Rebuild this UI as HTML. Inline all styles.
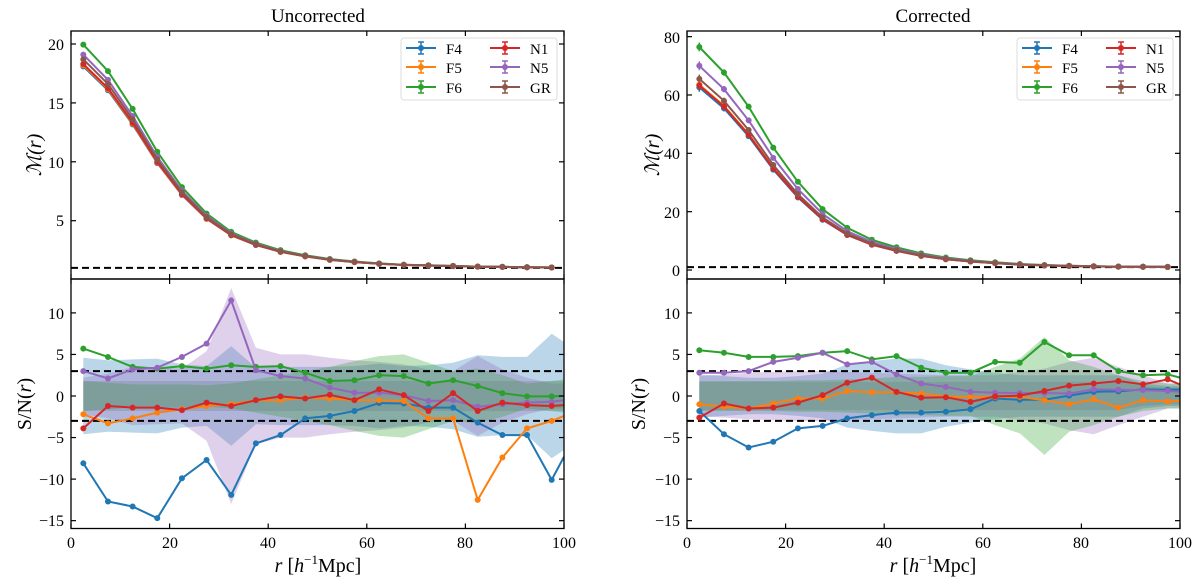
<!DOCTYPE html>
<html><head><meta charset="utf-8">
<style>
body{margin:0;background:#fff;}
svg{display:block;font-family:"Liberation Serif","DejaVu Serif",serif;}
</style></head>
<body>
<svg id="s" width="1200" height="585" xmlns="http://www.w3.org/2000/svg">
<rect width="1200" height="585" fill="#fff"/>
<g id="plots"></g>
<!-- titles -->
<text x="318" y="22" font-size="19" text-anchor="middle">Uncorrected</text>
<text x="933" y="22" font-size="19" text-anchor="middle">Corrected</text>
<!-- y labels -->
<text transform="translate(41,155) rotate(-90)" font-size="20" text-anchor="middle" font-style="italic">ℳ(r)</text>
<text transform="translate(659,155) rotate(-90)" font-size="20" text-anchor="middle" font-style="italic">ℳ(r)</text>
<text transform="translate(31,404) rotate(-90)" font-size="20" text-anchor="middle">S/N(<tspan font-style="italic">r</tspan>)</text>
<text transform="translate(645,404) rotate(-90)" font-size="20" text-anchor="middle">S/N(<tspan font-style="italic">r</tspan>)</text>
<!-- x labels -->
<text x="318" y="572" font-size="20" text-anchor="middle"><tspan font-style="italic">r</tspan> [<tspan font-style="italic">h</tspan><tspan font-size="13" dy="-8">−1</tspan><tspan dy="8">Mpc]</tspan></text>
<text x="933" y="572" font-size="20" text-anchor="middle"><tspan font-style="italic">r</tspan> [<tspan font-style="italic">h</tspan><tspan font-size="13" dy="-8">−1</tspan><tspan dy="8">Mpc]</tspan></text>
<!-- tick labels left top -->
<g font-size="16" text-anchor="end">
<text x="64" y="50">20</text><text x="64" y="109">15</text><text x="64" y="168">10</text><text x="64" y="226">5</text>
<text x="680" y="43">80</text><text x="680" y="101">60</text><text x="680" y="159">40</text><text x="680" y="218">20</text><text x="680" y="276">0</text>
<text x="64" y="319">10</text><text x="64" y="360">5</text><text x="64" y="402">0</text><text x="64" y="443">−5</text><text x="64" y="485">−10</text><text x="64" y="526">−15</text>
<text x="680" y="319">10</text><text x="680" y="360">5</text><text x="680" y="402">0</text><text x="680" y="443">−5</text><text x="680" y="485">−10</text><text x="680" y="526">−15</text>
</g>
<g font-size="16" text-anchor="middle">
<text x="71" y="548">0</text><text x="170" y="548">20</text><text x="268" y="548">40</text><text x="367" y="548">60</text><text x="465" y="548">80</text><text x="564" y="548">100</text>
<text x="687" y="548">0</text><text x="786" y="548">20</text><text x="884" y="548">40</text><text x="983" y="548">60</text><text x="1081" y="548">80</text><text x="1180" y="548">100</text>
</g>
<!-- legends -->
<g id="leg1" transform="translate(401,38)">
<rect x="0" y="0" width="156" height="62" rx="3" fill="#fff" fill-opacity="0.85" stroke="#ddd"/>
<g font-size="15">
<text x="45" y="16">F4</text><text x="45" y="35">F5</text><text x="45" y="55">F6</text>
<text x="129" y="16">N1</text><text x="129" y="35">N5</text><text x="129" y="55">GR</text>
</g>
</g>
<g id="leg2" transform="translate(1017,38)">
<rect x="0" y="0" width="156" height="62" rx="3" fill="#fff" fill-opacity="0.85" stroke="#ddd"/>
<g font-size="15">
<text x="45" y="16">F4</text><text x="45" y="35">F5</text><text x="45" y="55">F6</text>
<text x="129" y="16">N1</text><text x="129" y="35">N5</text><text x="129" y="55">GR</text>
</g>
</g>
</svg>
<script>
var NS="http://www.w3.org/2000/svg";
var G=document.getElementById('plots');
function el(t,a,p){var e=document.createElementNS(NS,t);for(var k in a)e.setAttribute(k,a[k]);(p||G).appendChild(e);return e;}
var C={F4:'#1f77b4',F5:'#ff7f0e',F6:'#2ca02c',N1:'#d62728',N5:'#9467bd',GR:'#8c564b'};
var xs=[];for(var i=0;i<20;i++)xs.push(2.5+5*i);
var xsE=xs.concat([100]);
function XL(x){return 71+4.93*x;} function XR(x){return 687+4.93*x;}
function YTL(v){return 279.6-11.78*v;} function YTR(v){return 270-2.917*v;} function YB(v){return 396-8.31*v;}
function line(X,Y,xv,yv,col,pts){var d='';for(var i=0;i<yv.length;i++)d+=(i?'L':'M')+X(xv[i]).toFixed(1)+','+Y(yv[i]).toFixed(1);
 el('path',{d:d,fill:'none',stroke:col,'stroke-width':2});
 if(pts){for(var i=0;i<Math.min(20,yv.length);i++)el('circle',{cx:X(xv[i]),cy:Y(yv[i]),r:3,fill:col});}}
function band(X,Y,h,col){var d='';for(var i=0;i<h.length;i++)d+=(i?'L':'M')+X(xsE[i]).toFixed(1)+','+Y(h[i]).toFixed(1);
 for(var i=h.length-1;i>=0;i--)d+='L'+X(xsE[i]).toFixed(1)+','+Y(-h[i]).toFixed(1);
 el('path',{d:d+'Z',fill:col,'fill-opacity':0.3,stroke:'none'});}
// clip paths
var defs=el('defs',{});
[['cTL',71,31],['cTR',687,31],['cBL',71,279],['cBR',687,279]].forEach(function(c){var cp=el('clipPath',{id:c[0]},defs);el('rect',{x:c[1],y:c[2],width:493,height:249.5},cp);});
// top
var GRl=[18.7,16.6,13.6,10.2,7.4,5.3,3.85,3.0,2.4,2.0,1.7,1.5,1.35,1.25,1.2,1.15,1.1,1.08,1.05,1.03];
var GRr=[65.5,58,48,36,26,18,12.5,9,6.8,5,3.8,3,2.4,1.9,1.6,1.4,1.25,1.15,1.1,1.05];
var dl={F4:-0.6,F5:-0.5,F6:1.25,N1:-0.4,N5:0.4}; var fr={F4:0.955,F5:0.97,F6:1.17,N1:0.965,N5:1.07};
var gTL=el('g',{'clip-path':'url(#cTL)'}),gTR=el('g',{'clip-path':'url(#cTR)'});
var save=G;
G=gTL; el('line',{x1:71,x2:564,y1:YTL(1),y2:YTL(1),stroke:'#000','stroke-width':2,'stroke-dasharray':'7,4'});
['F4','F5','F6','N1','N5','GR'].forEach(function(k){var v=GRl.map(function(g){return k=='GR'?g:g+dl[k]*(g-1)/17.7;});line(XL,YTL,xs,v,C[k],true);});
G=gTR; el('line',{x1:687,x2:1180,y1:YTR(1),y2:YTR(1),stroke:'#000','stroke-width':2,'stroke-dasharray':'7,4'});
['F4','F5','F6','N1','N5','GR'].forEach(function(k){var v=GRr.map(function(g){return k=='GR'?g:1+fr[k]*(g-1);});line(XR,YTR,xs,v,C[k],true);
 for(var i=0;i<3;i++){var e=1.5-i*0.4;el('line',{x1:XR(xs[i]),x2:XR(xs[i]),y1:YTR(v[i]+e),y2:YTR(v[i]-e),stroke:C[k],'stroke-width':1.5});}});
// bottom left
var gBL=el('g',{'clip-path':'url(#cBL)'},save);G=gBL;
band(XL,YB,[4.6,4.3,4.4,4.5,3.8,3.6,6,3.4,3.5,3.5,3.5,3.6,3.9,3.6,3.7,4,4.9,4.7,4.7,7.5,6.5],'#1f77b4');
band(XL,YB,[2.2,2.7,3.5,3.4,3.3,5.4,13,5.8,5,5,4.6,4.3,4.1,3.8,3.2,3,4.8,3.2,2.2,1.5,1.5],'#9467bd');
band(XL,YB,[1.8,1.6,1.4,1.4,1.4,1.3,1.5,2,2.5,3,3.5,4.2,4.8,5,4,3,3.3,2.5,1.5,1.8,2.0],'#2ca02c');
band(XL,YB,[1.8,1.8,1.8,1.8,1.8,1.8,1.8,1.8,1.8,1.8,1.8,1.8,1.8,1.8,1.8,1.8,1.8,1.8,1.8,1.8,1.8],'#6a7f86');
[3,-3].forEach(function(v){el('line',{x1:71,x2:564,y1:YB(v),y2:YB(v),stroke:'#000','stroke-width':2,'stroke-dasharray':'7,4'});});
var BL={F4:[-8.1,-12.7,-13.3,-14.7,-9.9,-7.7,-11.9,-5.7,-4.7,-2.7,-2.4,-1.8,-0.85,-0.9,-1.4,-1.4,-3.2,-4.7,-4.7,-10.1,-7.3],
F5:[-2.2,-3.3,-2.7,-2.0,-1.6,-1.2,-1.0,-0.5,-0.5,-0.2,-0.3,-0.5,-0.5,-0.6,-2.7,-2.7,-12.5,-7.4,-3.9,-3.0,-2.4],
F6:[5.7,4.7,3.5,3.3,3.6,3.3,3.7,3.5,3.6,2.8,1.8,1.9,2.5,2.4,1.5,1.9,1.2,0.35,-0.05,-0.05,0],
N1:[-3.9,-1.2,-1.4,-1.4,-1.7,-0.8,-1.2,-0.5,-0.05,-0.3,0.15,-0.5,0.8,0.1,-1.8,0.35,-1.8,-0.8,-1.1,-1.2,-1.1],
N5:[3.0,2.1,3.2,3.4,4.7,6.3,11.5,3.1,2.4,2.1,1.0,0.4,0.4,0.1,-0.6,-0.5,-1.3,-1.0,-0.8,-0.7,-0.5]};
['F4','F5','F6','N5','N1'].forEach(function(k){line(XL,YB,xsE,BL[k],C[k],true);});
// bottom right
var gBR=el('g',{'clip-path':'url(#cBR)'},save);G=gBR;
band(XR,YB,[2.6,2.4,2.2,2.2,2.4,2.7,3.8,4.2,4.5,4.5,3.7,3.2,2.8,2.5,2.5,2.5,2.5,2.5,1.5,1.2,1.2],'#1f77b4');
band(XR,YB,[2.4,2.6,2.8,2.9,3.0,3.0,2.9,2.8,2.7,2.6,2.5,2.5,2.5,2.9,3.3,4.1,4.6,3.5,2.5,1.5,1.5],'#9467bd');
band(XR,YB,[1.8,1.8,1.8,1.8,1.9,1.9,2.0,2.1,2.3,2.3,2.4,2.4,3.5,4.5,7.1,4.3,3.5,2.5,1.8,1.5,1.5],'#2ca02c');
band(XR,YB,[1.7,1.7,1.7,1.7,1.7,1.7,1.7,1.7,1.7,1.7,1.7,1.7,1.7,1.7,1.7,1.7,1.7,1.7,1.2,1.0,1.0],'#6a7f86');
[3,-3].forEach(function(v){el('line',{x1:687,x2:1180,y1:YB(v),y2:YB(v),stroke:'#000','stroke-width':2,'stroke-dasharray':'7,4'});});
var BR={F4:[-1.8,-4.6,-6.2,-5.5,-3.9,-3.6,-2.7,-2.3,-2.0,-2.0,-1.9,-1.6,-0.3,-0.45,-0.45,0.05,0.5,0.55,0.8,0.75,0.8],
F5:[-1.0,-1.3,-1.5,-0.9,-0.3,-0.3,0.6,0.45,0.45,0.3,-0.1,-0.1,-0.1,-0.1,-0.5,-1.0,-0.4,-1.4,-0.5,-0.65,-0.6],
F6:[5.5,5.2,4.7,4.7,4.8,5.2,5.4,4.4,4.8,3.4,2.8,2.8,4.1,4.0,6.5,4.9,4.9,3.0,2.5,2.6,2.2],
N1:[-2.6,-0.9,-1.5,-1.4,-0.8,0.1,1.6,2.2,0.5,-0.2,-0.15,-0.7,-0.05,0.05,0.6,1.25,1.5,1.8,1.4,2.0,1.4],
N5:[2.8,2.8,3.0,4.1,4.6,5.2,3.8,4.1,2.6,1.5,1.1,0.5,0.4,0.35,0.35,0.3,0.8,0.75,0.7,0.6,0.5]};
['F4','F5','F6','N5','N1'].forEach(function(k){line(XR,YB,xsE,BR[k],C[k],true);});
G=save;
// frames & ticks
function frame(x0,y0,y1,yt,Yf){el('rect',{x:x0,y:y0,width:493,height:y1-y0,fill:'none',stroke:'#000','stroke-width':1.3});
 for(var t=0;t<=100;t+=20){var x=x0+4.93*t;el('line',{x1:x,x2:x,y1:y0,y2:y0+5,stroke:'#000','stroke-width':1.2});el('line',{x1:x,x2:x,y1:y1,y2:y1-5,stroke:'#000','stroke-width':1.2});}
 yt.forEach(function(v){var y=Yf(v);el('line',{x1:x0,x2:x0+5,y1:y,y2:y,stroke:'#000','stroke-width':1.2});el('line',{x1:x0+493,x2:x0+488,y1:y,y2:y,stroke:'#000','stroke-width':1.2});});}
frame(71,31,279,[5,10,15,20],YTL);frame(687,31,279,[0,20,40,60,80],YTR);
frame(71,279,528.5,[-15,-10,-5,0,5,10],YB);frame(687,279,528.5,[-15,-10,-5,0,5,10],YB);
// legend symbols
function leg(id){var g=document.getElementById(id);var r=[['F4',0,10],['F5',0,29],['F6',0,49],['N1',84,10],['N5',84,29],['GR',84,49]];
 r.forEach(function(a){var c=C[a[0]];var x=a[1]+5,y=a[2];el('line',{x1:x,x2:x+30,y1:y,y2:y,stroke:c,'stroke-width':2},g);
 el('line',{x1:x+15,x2:x+15,y1:y-6,y2:y+6,stroke:c,'stroke-width':1.5},g);el('line',{x1:x+12,x2:x+18,y1:y-6,y2:y-6,stroke:c,'stroke-width':1.5},g);
 el('line',{x1:x+12,x2:x+18,y1:y+6,y2:y+6,stroke:c,'stroke-width':1.5},g);el('circle',{cx:x+15,cy:y,r:3,fill:c},g);});}
leg('leg1');leg('leg2');
</script>
</body></html>
